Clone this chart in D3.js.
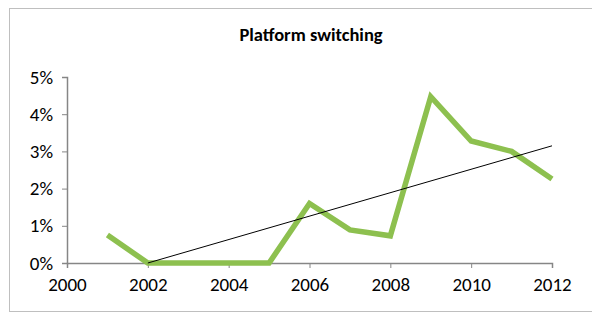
<!DOCTYPE html>
<html>
<head>
<meta charset="utf-8">
<script src="https://cdn.jsdelivr.net/npm/d3@7"></script>
<style>
  body { margin: 0; background: #fff; }
  svg { display: block; font-family: Carlito, Calibri, "Open Sans", sans-serif; }
</style>
</head>
<body>
<svg width="592" height="313"></svg>
<script>
const years = [2001, 2002, 2003, 2004, 2005, 2006, 2007, 2008, 2009, 2010, 2011, 2012];
const share = [0.0075, 0, 0, 0, 0, 0.016, 0.0089, 0.0073, 0.0447, 0.0328, 0.030, 0.0226];
// trend line end points (as drawn in the chart)
const trendYears = [2002, 2012];
const trendValues = [0, 0.0315];
const xTicks = [2000, 2002, 2004, 2006, 2008, 2010, 2012];
const yTicks = [0, 0.01, 0.02, 0.03, 0.04, 0.05];

const svg = d3.select("svg");
const margin = { left: 67, right: 40, top: 77, bottom: 50 };
const width = 592, height = 313;

// 외곽 테두리
svg.append("rect")
  .attr("x", 9.5).attr("y", 8.5)
  .attr("width", 590).attr("height", 303)
  .attr("fill", "none").attr("stroke", "#bfbfbf");

svg.append("text")
  .text("Platform switching")
  .attr("x", 311).attr("y", 41)
  .attr("text-anchor", "middle")
  .style("font-weight", "bold")
  .style("font-size", "18.5px")
  .style("fill", "#000");

const x = d3.scaleLinear().domain([2000, 2012]).range([margin.left, width - margin.right]);
const y = d3.scaleLinear().domain([0, 0.05]).range([height - margin.bottom, margin.top]);

const xAxis = svg.append("g")
  .attr("transform", `translate(0,${y(0)})`)
  .call(d3.axisBottom(x).tickValues(xTicks).tickFormat(d3.format("d")).tickSize(5).tickPadding(10));

const yAxis = svg.append("g")
  .attr("transform", `translate(${x(2000)},0)`)
  .call(d3.axisLeft(y).tickValues(yTicks).tickFormat(d3.format(".0%")).tickSize(5).tickPadding(9));

[xAxis, yAxis].forEach(g => {
  g.select(".domain").attr("stroke", "#868686").attr("stroke-width", 1.5);
  g.selectAll(".tick line").attr("stroke", "#868686");
  g.selectAll(".tick text")
    .style("font-size", "19px")
    .style("fill", "#000")
    .style("font-family", "Carlito, Calibri, 'Open Sans', sans-serif");
});

const line = d3.line().x(d => x(d[0])).y(d => y(d[1]));

svg.append("path")
  .datum(years.map((yr, i) => [yr, share[i]]))
  .attr("d", line)
  .attr("fill", "none")
  .attr("stroke", "#8dc04f")
  .attr("stroke-width", 5.5)
  .attr("stroke-linejoin", "miter");

svg.append("path")
  .datum(trendYears.map((yr, i) => [yr, trendValues[i]]))
  .attr("d", line)
  .attr("fill", "none")
  .attr("stroke", "#000")
  .attr("stroke-width", 1);
</script>
</body>
</html>
